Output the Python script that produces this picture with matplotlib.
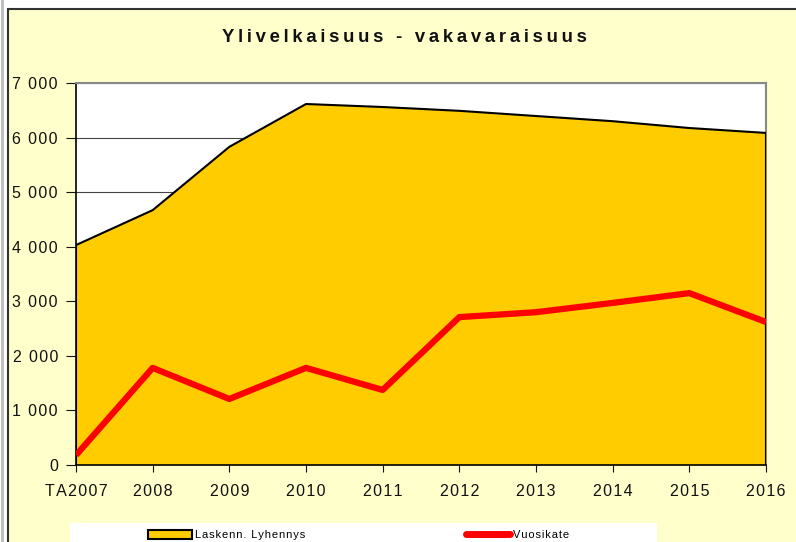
import matplotlib.pyplot as plt
import numpy as np
from matplotlib.patches import Rectangle, Patch
from matplotlib.lines import Line2D

plt.rcParams['font.family'] = ['Liberation Sans', 'DejaVu Sans']

years = ['TA2007', '2008', '2009', '2010', '2011', '2012', '2013', '2014', '2015', '2016']
lyhennys = [4030, 4670, 5830, 6615, 6560, 6490, 6395, 6300, 6175, 6085]
vuosikate = [180, 1780, 1210, 1780, 1375, 2710, 2800, 2970, 3150, 2620]
yticks = [0, 1000, 2000, 3000, 4000, 5000, 6000, 7000]

W, H = 796, 542
fig = plt.figure(figsize=(W / 100, H / 100), dpi=100)
fig.patch.set_facecolor('white')

def px(x0, y0, x1, y1):
    # pixel box (top-left origin) -> figure fraction rect
    return (x0 / W, 1 - y1 / H), (x1 - x0) / W, (y1 - y0) / H

def spaced(s, sep='\u200a'):
    return sep.join(s)

# window-like frame
xy, w, h = px(1, 0, 4, H)
fig.patches.append(Rectangle(xy, w, h, transform=fig.transFigure, facecolor='#c0c0c0',
                             edgecolor='none', zorder=-10))
xy, w, h = px(8, 9, W + 5, H + 5)
fig.patches.append(Rectangle(xy, w, h, transform=fig.transFigure, facecolor='#ffffcc',
                             edgecolor='#333333', linewidth=1.5, zorder=-10))
# legend background
xy, w, h = px(70, 523, 657, H + 2)
fig.patches.append(Rectangle(xy, w, h, transform=fig.transFigure, facecolor='white',
                             edgecolor='none', zorder=-9))

ax = fig.add_axes([76 / W, 1 - 465 / H, 690 / W, 382 / H])
ax.set_facecolor('white')
x = np.arange(len(years))

ax.fill_between(x, 0, lyhennys, facecolor='#ffcc00', edgecolor='none', zorder=2)
ax.plot(x, lyhennys, color='black', linewidth=1.5, zorder=3)
ax.plot([x[0], x[0]], [0, lyhennys[0]], color='black', linewidth=1.5, zorder=3)
ax.plot([x[-1], x[-1]], [0, lyhennys[-1]], color='black', linewidth=1.5, zorder=3)
ax.plot(x, vuosikate, color='#ff0000', linewidth=4.5, solid_capstyle='butt', zorder=4)

ax.set_xlim(0, len(years) - 1)
ax.set_ylim(0, 7000)
ax.set_yticks(yticks)
ax.set_yticklabels([spaced(f'{v:,}'.replace(',', ' ')) for v in yticks], fontsize=11.5)
ax.set_xticks(x)
ax.set_xticklabels([spaced(y) for y in years], fontsize=11.5)
ax.grid(axis='y', color='#444444', linewidth=0.8, zorder=1)
ax.set_axisbelow(True)
ax.tick_params(axis='y', length=7, width=0.8, pad=6, colors='#111111')
ax.tick_params(axis='x', length=5, width=0.8, pad=9, colors='#111111')
for s in ['top', 'right']:
    ax.spines[s].set_color('#888888')
    ax.spines[s].set_linewidth(1.5)
for s in ['left', 'bottom']:
    ax.spines[s].set_color('black')
    ax.spines[s].set_linewidth(1.2)

fig.text(404 / W, 1 - 37 / H, spaced('Ylivelkaisuus - vakavaraisuus', '\u2009'),
         ha='center', va='center', fontsize=13.3, fontweight='bold', color='#111111')

handles = [Patch(facecolor='#ffcc00', edgecolor='black', linewidth=1.5),
           Line2D([0], [0], color='#ff0000', linewidth=5, solid_capstyle='round')]
fig.legend(handles, [spaced('Laskenn. Lyhennys'), spaced('Vuosikate')], ncol=2, frameon=False,
           loc='center left', bbox_to_anchor=(148 / W, 1 - 535 / H), fontsize=8,
           handlelength=4.0, handleheight=0.9, handletextpad=0.2, columnspacing=14.5,
           borderpad=0, borderaxespad=0)

fig.savefig('out.png', dpi=100, facecolor=fig.get_facecolor())
